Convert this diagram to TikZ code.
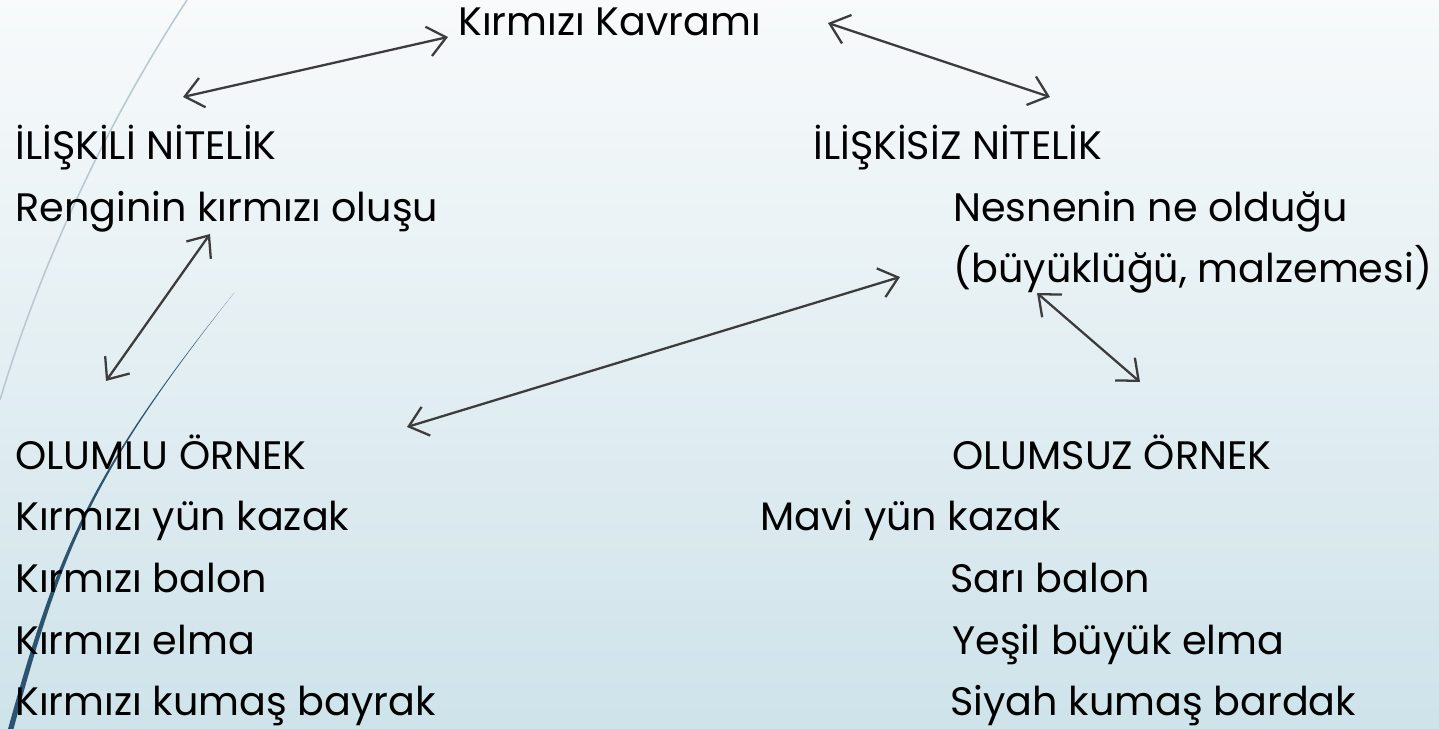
\documentclass[tikz,border=0pt]{standalone}
\usepackage{fontspec}
\setmainfont{Poppins}
\usepackage{tikz}
\usetikzlibrary{arrows.meta,positioning}
\usepackage{xcolor}
\definecolor{slidetop}{RGB}{248,250,251}
\definecolor{slidebot}{RGB}{206,227,234}
\definecolor{arcgray}{RGB}{186,201,209}
\definecolor{arcblue}{RGB}{44,84,112}
\definecolor{arrowgray}{RGB}{60,60,60}
\tikzstyle{txt} = [anchor=base west,inner sep=0pt,font=\fontsize{22.6}{27}\selectfont,text=black]
\tikzstyle{arrow} = [line width=1.3pt,{Straight Barb[length=3.6mm,width=6mm]}-{Straight Barb[length=3.6mm,width=6mm]},color=arrowgray]

\begin{document}
\begin{tikzpicture}
% Slide background
\useasboundingbox (0,0) rectangle (28.78,14.58);
\shade[top color=slidetop,bottom color=slidebot] (0,0) rectangle (28.78,14.58);
\draw[arcgray, line width=0.9pt] (3.74,14.58) .. controls (2.04,11.98) and (0.78,9.18) .. (0,6.58);
\fill[arcblue] (4.68,8.72) .. controls (1.80,5.12) and (1.16,3.60) .. (0.16,0)
  -- (0.27,0) .. controls (1.24,3.60) and (1.84,5.12) .. (4.68,8.72) -- cycle;

% Concept
\node[txt] (kavram) at (9.16,13.86) {Kırmızı Kavramı};

% Attributes
\node[txt] (iliskili) at (0.30,11.38) {İLİŞKİLİ NİTELİK};
\node[txt] (renk) at (0.30,10.14) {Renginin kırmızı oluşu};
\node[txt] (iliskisiz) at (16.26,11.38) {İLİŞKİSİZ NİTELİK};
\node[txt] (nesne) at (19.06,10.14) {Nesnenin ne olduğu};
\node[txt] (ozellik) at (19.06,8.92) {(büyüklüğü, malzemesi)};

% Positive examples
\node[txt] (olumlu) at (0.30,5.18) {OLUMLU ÖRNEK};
\node[txt] (kazak) at (0.30,3.96) {Kırmızı yün kazak};
\node[txt] (balon) at (0.30,2.72) {Kırmızı balon};
\node[txt] (elma) at (0.30,1.48) {Kırmızı elma};
\node[txt] (bayrak) at (0.30,0.26) {Kırmızı kumaş bayrak};

% Negative examples
\node[txt] (olumsuz) at (19.04,5.18) {OLUMSUZ ÖRNEK};
\node[txt] (mavi) at (15.20,3.96) {Mavi yün kazak};
\node[txt] (sari) at (19.00,2.72) {Sarı balon};
\node[txt] (yesil) at (19.04,1.48) {Yeşil büyük elma};
\node[txt] (siyah) at (19.00,0.26) {Siyah kumaş bardak};

% Arrow ends
\coordinate (a1) at (3.66,12.64);
\coordinate (a2) at (8.96,13.84);
\coordinate (b1) at (4.20,9.90);
\coordinate (b2) at (2.12,6.96);
\coordinate (c1) at (16.56,14.12);
\coordinate (c2) at (21.00,12.64);
\coordinate (d1) at (18.00,9.04);
\coordinate (d2) at (8.14,6.04);
\coordinate (e1) at (20.74,8.72);
\coordinate (e2) at (22.80,6.94);

\draw[arrow] (a1) -- (a2);
\draw[arrow] (b1) -- (b2);
\draw[arrow] (c1) -- (c2);
\draw[arrow] (d1) -- (d2);
\draw[arrow] (e1) -- (e2);
\end{tikzpicture}
\end{document}
